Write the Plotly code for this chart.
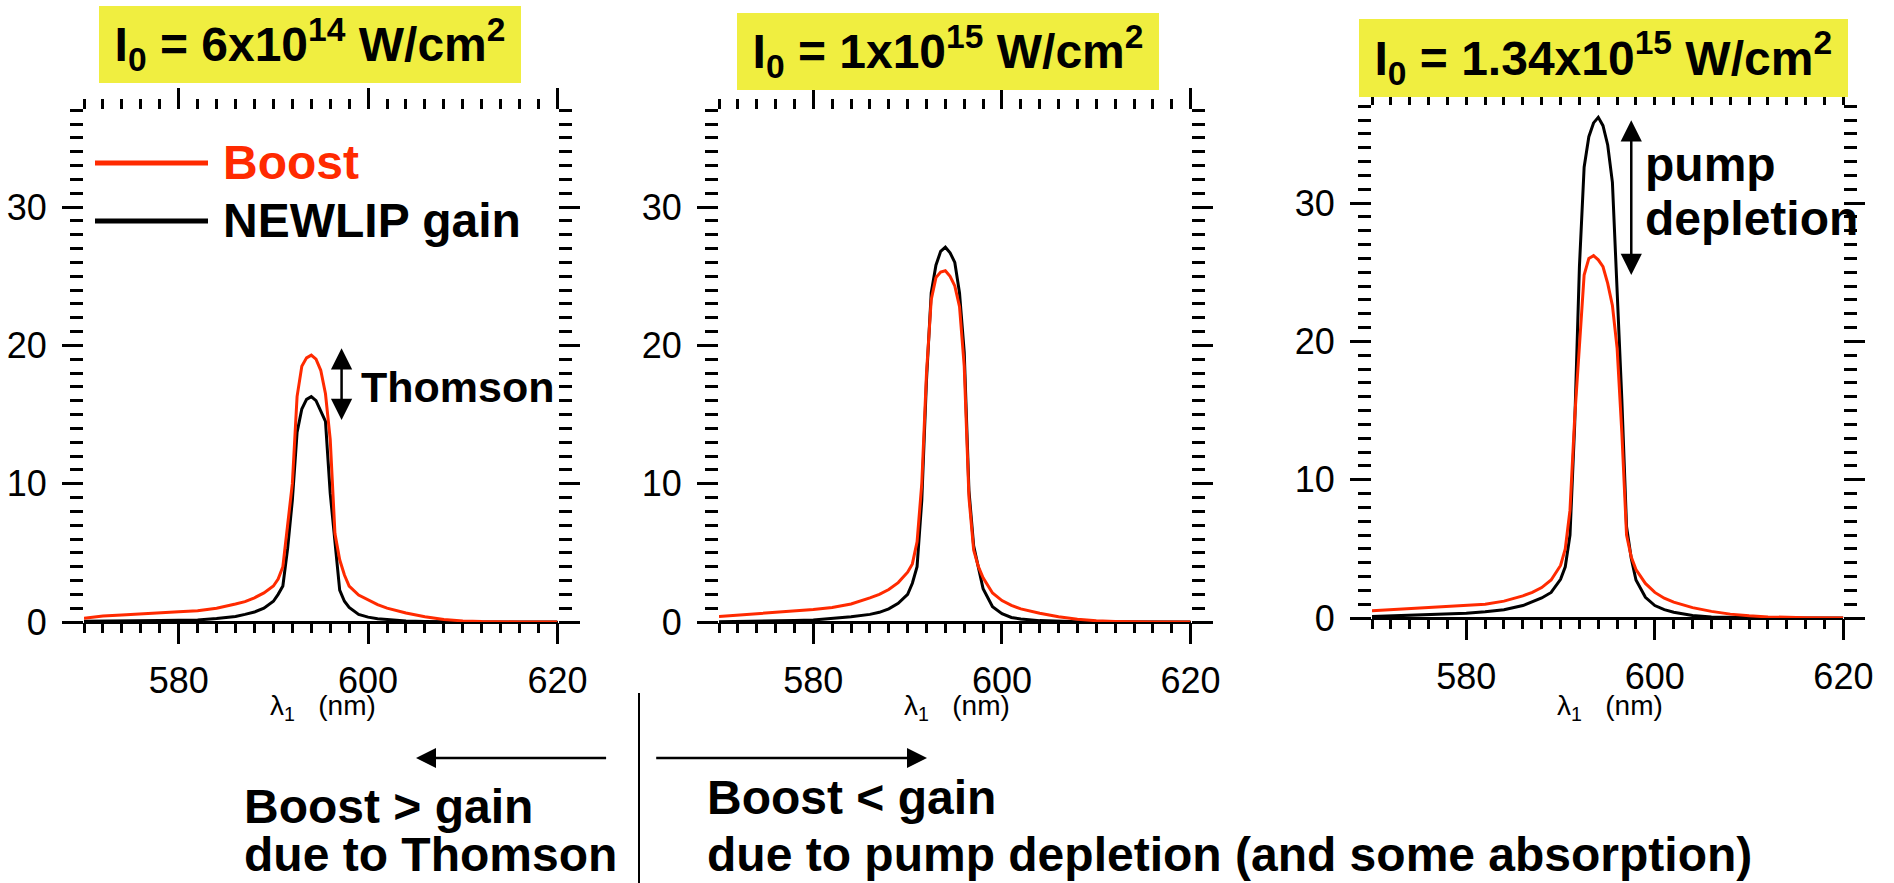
import plotly.graph_objects as go

# ---------------------------------------------------------------------------
# Data: SRS spectra (gain vs. seed wavelength) for three pump intensities
# ---------------------------------------------------------------------------
wavelength_nm = [570, 572, 574, 576, 578, 580, 582, 584, 586, 587,
                 588, 589, 590, 590.5, 591, 591.5, 592, 592.5, 593, 593.5,
                 594, 594.5, 595, 595.5, 596, 596.5, 597, 597.5, 598, 599,
                 600, 601, 602, 604, 606, 608, 610, 612, 616, 620]

# I0 = 6e14 W/cm2
boost_6e14 = [0.27, 0.43, 0.50, 0.60, 0.68, 0.75, 0.82, 1.00, 1.30, 1.47,
              1.75, 2.10, 2.60, 3.10, 4.00, 7.00, 10.0, 16.3, 18.5, 19.1,
              19.3, 19.0, 18.2, 16.5, 13.2, 6.4, 4.5, 3.4, 2.6, 1.95,
              1.6, 1.25, 1.0, 0.65, 0.38, 0.18, 0.08, 0.03, 0.0, 0.0]
newlip_6e14 = [0.05, 0.05, 0.06, 0.08, 0.10, 0.12, 0.15, 0.25, 0.40, 0.55,
               0.72, 1.00, 1.50, 2.00, 2.60, 5.30, 8.80, 13.7, 15.4, 16.1,
               16.3, 16.0, 15.3, 14.5, 9.3, 5.8, 2.3, 1.5, 1.05, 0.55,
               0.35, 0.23, 0.17, 0.08, 0.04, 0.02, 0.01, 0.0, 0.0, 0.0]

# I0 = 1e15 W/cm2
boost_1e15 = [0.40, 0.50, 0.60, 0.68, 0.80, 0.90, 1.05, 1.30, 1.75, 2.00,
              2.35, 2.85, 3.60, 4.20, 5.80, 10.0, 18.0, 23.3, 24.9, 25.3,
              25.4, 25.0, 24.3, 22.8, 18.5, 9.0, 5.2, 4.0, 3.2, 2.1,
              1.55, 1.2, 0.95, 0.63, 0.38, 0.20, 0.09, 0.04, 0.0, 0.0]
newlip_1e15 = [0.02, 0.03, 0.05, 0.07, 0.10, 0.15, 0.25, 0.38, 0.55, 0.70,
               0.95, 1.35, 2.00, 2.80, 4.00, 8.80, 17.5, 23.8, 25.8, 26.8,
               27.1, 26.7, 26.0, 23.8, 19.5, 9.5, 5.5, 3.9, 2.4, 1.1,
               0.6, 0.33, 0.22, 0.10, 0.05, 0.02, 0.01, 0.0, 0.0, 0.0]

# I0 = 1.34e15 W/cm2
boost_134e15 = [0.52, 0.60, 0.66, 0.72, 0.80, 0.88, 1.00, 1.22, 1.60, 1.85,
                2.20, 2.75, 3.80, 5.00, 7.80, 14.5, 19.3, 24.8, 26.0, 26.2,
                25.9, 25.4, 24.2, 22.6, 19.5, 13.4, 6.0, 4.4, 3.5, 2.5,
                1.85, 1.43, 1.15, 0.75, 0.48, 0.28, 0.16, 0.08, 0.02, 0.0]
newlip_134e15 = [0.10, 0.14, 0.18, 0.23, 0.28, 0.35, 0.45, 0.60, 0.90, 1.15,
                 1.45, 1.85, 2.80, 3.70, 6.00, 14.0, 25.4, 32.6, 34.8, 35.8,
                 36.2, 35.6, 34.2, 31.5, 24.0, 15.8, 6.6, 4.3, 2.75, 1.5,
                 0.9, 0.6, 0.42, 0.18, 0.08, 0.04, 0.02, 0.01, 0.0, 0.0]

intensity_labels = ["I<sub>0</sub> = 6x10<sup>14</sup> W/cm<sup>2</sup>",
                    "I<sub>0</sub> = 1x10<sup>15</sup> W/cm<sup>2</sup>",
                    "I<sub>0</sub> = 1.34x10<sup>15</sup> W/cm<sup>2</sup>"]
boost_series = [boost_6e14, boost_1e15, boost_134e15]
newlip_series = [newlip_6e14, newlip_1e15, newlip_134e15]
series_names = ["Boost", "NEWLIP gain"]

x_range = [570, 620]
y_range = [0, 37]
x_tickvals = [580, 600, 620]
y_tickvals = [0, 10, 20, 30]

# ---------------------------------------------------------------------------
# Styling / layout (pixel geometry of a 1894 x 883 page)
# ---------------------------------------------------------------------------
W, H = 1894, 883
RED = "#ff2a00"
YELLOW = "#f0ee40"
FONT = "Liberation Sans, Arial, Helvetica, sans-serif"


def px(x):
    return x / W


def py(y):
    return 1 - y / H


# panel frames: left, right, top, zero line (pixels)
frames = [
    dict(l=84, r=557.5, t=110.3, b=622),
    dict(l=719, r=1190.6, t=110.3, b=622),
    dict(l=1372, r=1843.4, t=106.3, b=618),
]
# yellow label boxes: left, right, top, bottom (pixels)
boxes = [
    (99, 521, 6, 83),
    (737, 1159, 13, 90),
    (1359, 1847.5, 19, 97),
]

fig = go.Figure()

axis_font = dict(family=FONT, size=36, color="black")

for i, fr in enumerate(frames):
    sfx = "" if i == 0 else str(i + 1)
    xa, ya = "x" + sfx, "y" + sfx

    fig.add_trace(go.Scatter(x=wavelength_nm, y=newlip_series[i], mode="lines",
                             line=dict(color="black", width=3),
                             name=series_names[1], showlegend=False,
                             hoverinfo="skip", xaxis=xa, yaxis=ya))
    fig.add_trace(go.Scatter(x=wavelength_nm, y=boost_series[i], mode="lines",
                             line=dict(color=RED, width=3),
                             name=series_names[0], showlegend=False,
                             hoverinfo="skip", xaxis=xa, yaxis=ya))

    fig.update_layout(**{
        "xaxis" + sfx: dict(
            domain=[px(fr["l"]), px(fr["r"])], anchor=ya, range=x_range,
            tickmode="array", tickvals=x_tickvals, automargin=False,
            ticks="outside", ticklen=21, tickwidth=3, tickcolor="black",
            mirror="ticks", showline=False, showgrid=False, zeroline=False,
            tickfont=axis_font, ticklabelstandoff=6, fixedrange=True,
            minor=dict(tick0=570, dtick=2, ticks="outside", ticklen=10,
                       tickwidth=3, tickcolor="black", showgrid=False),
        ),
        "yaxis" + sfx: dict(
            domain=[py(fr["b"]), py(fr["t"])], anchor=xa, range=y_range,
            tickmode="array", tickvals=y_tickvals, automargin=False,
            ticks="outside", ticklen=21, tickwidth=3, tickcolor="black",
            mirror="ticks", showline=False, showgrid=False,
            zeroline=True, zerolinecolor="black", zerolinewidth=3,
            tickfont=axis_font, ticklabelstandoff=8, fixedrange=True,
            minor=dict(tick0=0, dtick=1, ticks="outside", ticklen=13,
                       tickwidth=3, tickcolor="black", showgrid=False),
        ),
    })

annotations = []
shapes = []

# intensity labels in yellow boxes
for lab, (l, r, t, b) in zip(intensity_labels, boxes):
    annotations.append(dict(
        text=lab, xref="paper", yref="paper",
        x=px((l + r) / 2), y=py((t + b) / 2), xanchor="center", yanchor="middle",
        width=r - l, height=b - t, bgcolor=YELLOW, borderpad=0, borderwidth=0,
        showarrow=False, font=dict(family=FONT, size=48, color="black", weight="bold"),
    ))

# axis titles under each panel
for fr in frames:
    annotations.append(dict(
        text="\u03bb<sub>1</sub>\u00a0\u00a0\u00a0(nm)", xref="paper", yref="paper",
        x=px((fr["l"] + fr["r"]) / 2 + 2), y=py(707), xanchor="center", yanchor="middle",
        showarrow=False, font=dict(family=FONT, size=28, color="black"),
    ))

# legend (first panel)
for name, color, ypix in [(series_names[0], RED, 163), (series_names[1], "black", 221)]:
    shapes.append(dict(type="line", xref="paper", yref="paper",
                       x0=px(95), x1=px(208), y0=py(ypix), y1=py(ypix),
                       line=dict(color=color, width=5)))
    annotations.append(dict(
        text=name, xref="paper", yref="paper", x=px(221), y=py(ypix),
        xanchor="left", yanchor="middle", showarrow=False,
        font=dict(family=FONT, size=48, color=color, weight="bold"),
    ))

# double-headed arrows marking the peak differences
for xref, yref, xa, y_top, y_bot in [("x", "y", 597.2, 19.8, 14.5),
                                      ("x3", "y3", 597.5, 36.0, 24.7)]:
    annotations.append(dict(
        text="", xref=xref, yref=yref, axref=xref, ayref=yref,
        x=xa, y=y_top, ax=xa, ay=y_bot, showarrow=True,
        arrowside="end+start", arrowhead=2, startarrowhead=2,
        arrowsize=1.7, startarrowsize=1.7, arrowwidth=2.5, arrowcolor="black",
    ))

annotations.append(dict(
    text="Thomson", xref="x", yref="y", x=599.0, y=17.0,
    xanchor="left", yanchor="middle", showarrow=False,
    font=dict(family=FONT, size=43, color="black", weight="bold"),
))
for txt, yv in [("pump", 32.8), ("depletion", 28.9)]:
    annotations.append(dict(
        text=txt, xref="x3", yref="y3", x=598.7, y=yv,
        xanchor="left", yanchor="middle", showarrow=False,
        font=dict(family=FONT, size=48, color="black", weight="bold"),
    ))

# bottom explanation: divider, arrows and captions
shapes.append(dict(type="line", xref="paper", yref="paper",
                   x0=px(639), x1=px(639), y0=py(693), y1=py(883),
                   line=dict(color="black", width=2)))
for tip, tail in [(416, 607.6), (927, 654.7)]:
    annotations.append(dict(
        text="", xref="paper", yref="paper", x=px(tip), y=py(758),
        ax=tail - tip, ay=0, showarrow=True, arrowhead=2, arrowsize=1.6,
        arrowwidth=2.5, arrowcolor="black",
    ))

captions = [
    ("Boost &gt; gain", 242, 806),
    ("due to Thomson", 242, 854),
    ("Boost &lt; gain", 705, 797),
    ("due to pump depletion (and some absorption)", 705, 854),
]
for txt, xp, yp in captions:
    annotations.append(dict(
        text=txt, xref="paper", yref="paper", x=px(xp), y=py(yp),
        xanchor="left", yanchor="middle", showarrow=False,
        font=dict(family=FONT, size=48, color="black", weight="bold"),
    ))

fig.update_layout(
    width=W, height=H, autosize=False,
    margin=dict(l=0, r=0, t=0, b=0, pad=0, autoexpand=False),
    paper_bgcolor="white", plot_bgcolor="white",
    showlegend=False,
    annotations=annotations, shapes=shapes,
    font=dict(family=FONT, color="black"),
)

fig.write_html("out.html", config={"displayModeBar": False})
